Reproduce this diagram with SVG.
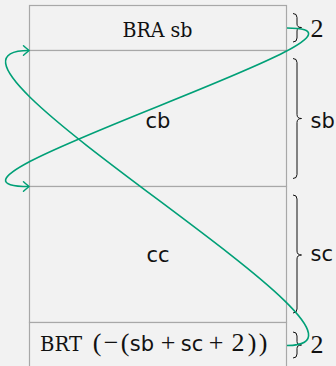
<svg xmlns="http://www.w3.org/2000/svg" width="336" height="366" viewBox="0 0 336 366">
<style>
.cell{fill:#f2f2f2;stroke:#a8a8a8;stroke-width:1.2}
.tt{font-family:"DejaVu Serif",serif;font-size:20px;fill:#111}
.ss{font-family:"DejaVu Sans",sans-serif;font-size:21px;fill:#111}
.mm{font-family:"Liberation Serif",serif;font-size:26px;fill:#111}
.brace{fill:none;stroke:#111;stroke-width:1}
.conn{fill:none;stroke:#00a077;stroke-width:1.6}
</style>
<defs>
<marker id="ah" markerUnits="userSpaceOnUse" markerWidth="12" markerHeight="12" viewBox="-7 -6 9 12" refX="0" refY="0" orient="auto" overflow="visible">
<path d="M -5.5 -4.8 Q -1.2 -1 0 0 Q -1.2 1 -5.5 4.8" fill="none" stroke="#00a077" stroke-width="1.5" stroke-linecap="round"/>
</marker>
</defs>
<rect width="336" height="366" fill="#f2f2f2"/>
<g id="BRA">
<rect class="cell" x="29.5" y="5.5" width="257" height="45"/>
<text class="tt" x="157.5" y="36.5" text-anchor="middle" textLength="70" lengthAdjust="spacingAndGlyphs">BRA sb</text>
</g>
<g id="cb">
<rect class="cell" x="29.5" y="50.5" width="257" height="136"/>
<text class="ss" x="158" y="127.5" text-anchor="middle">cb</text>
</g>
<g id="cc">
<rect class="cell" x="29.5" y="186.5" width="257" height="136"/>
<text class="ss" x="158" y="262" text-anchor="middle">cc</text>
</g>
<g id="BRT">
<rect class="cell" x="29.5" y="322.5" width="257" height="46"/>
<text class="tt" x="40" y="351" textLength="42" lengthAdjust="spacingAndGlyphs">BRT</text>
<text class="mm" y="351" text-anchor="middle"><tspan x="97">(</tspan><tspan x="111">−</tspan><tspan x="125">(</tspan></text>
<text class="ss" x="142" y="351" text-anchor="middle">sb</text>
<text class="mm" x="168" y="351" text-anchor="middle">+</text>
<text class="ss" x="192" y="351" text-anchor="middle">sc</text>
<text class="mm" y="351" text-anchor="middle"><tspan x="216">+</tspan><tspan x="238">2</tspan><tspan x="252">)</tspan><tspan x="263">)</tspan></text>
</g>
<g id="braces">
<path class="brace" d="M293 13.5 Q297 13.5 297 17.5 L297 24 Q297 27.5 301.5 27.5 Q297 27.5 297 31 L297 38 Q297 42 293 42"/>
<text class="mm" x="317" y="37" text-anchor="middle">2</text>
<path class="brace" d="M293 58.5 Q297 58.5 297 62.5 L297 114.5 Q297 118.5 301.5 118.5 Q297 118.5 297 122.5 L297 174.5 Q297 178.5 293 178.5"/>
<text class="ss" x="310.5" y="128">sb</text>
<path class="brace" d="M293 195 Q297 195 297 199 L297 251 Q297 255 301.5 255 Q297 255 297 259 L297 309 Q297 313 293 313"/>
<text class="ss" x="310.5" y="261">sc</text>
<path class="brace" d="M293 332 Q297 332 297 336 L297 341.5 Q297 345 301.5 345 Q297 345 297 348.5 L297 354 Q297 358 293 358"/>
<text class="mm" x="317" y="353" text-anchor="middle">2</text>
</g>
<g id="connectors">
<path class="conn" marker-end="url(#ah)" d="M287 28 C420 28 -110 186.5 29 186.5"/>
<path class="conn" marker-end="url(#ah)" d="M287 345.5 C420 345.5 -110 50.5 29 50.5"/>
</g>
</svg>
